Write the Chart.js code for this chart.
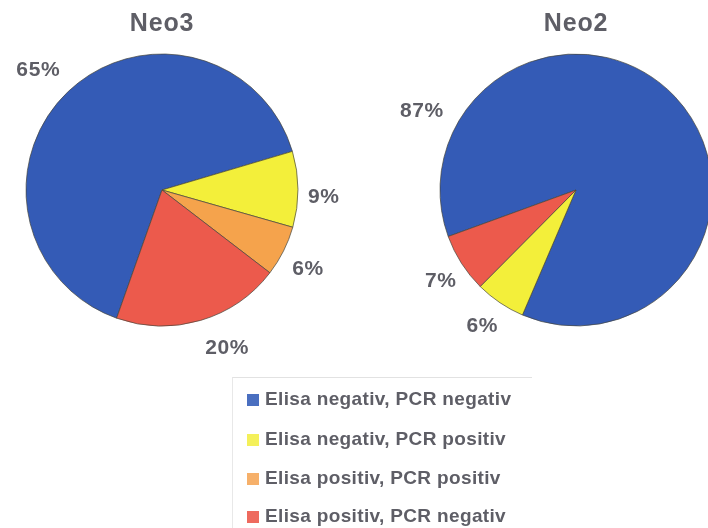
<!DOCTYPE html>
<html>
<head>
<meta charset="utf-8">
<script src="https://cdn.jsdelivr.net/npm/chart.js@4/dist/chart.umd.min.js"></script>
<style>
  html, body { margin: 0; padding: 0; background: #ffffff; }
  #wrap { position: relative; width: 708px; height: 528px; overflow: hidden; background: #fff; }
  canvas.pie { position: absolute; left: 0; top: 0; }
  #legend {
    position: absolute; left: 232px; top: 377px; width: 300px; height: 160px;
    border-top: 1px solid #e2e2e2; border-left: 1px solid #e8e8e8; box-sizing: border-box;
    font-family: "Liberation Sans", Arial, Helvetica, sans-serif; font-weight: bold;
    font-size: 19px; letter-spacing: 0.35px; color: #5e5e66;
  }
  .item { position: absolute; left: 14px; height: 20px; line-height: 20px; white-space: nowrap; }
  .sw { display: inline-block; width: 12px; height: 12px; margin-right: 6px; vertical-align: -1px; }
</style>
</head>
<body>
<div id="wrap">
  <canvas id="c1" class="pie" width="708" height="528"></canvas>
  <canvas id="c2" class="pie" width="708" height="528"></canvas>
  <div id="legend"></div>
</div>
<script>
// ---- data ----
const categories = [
  "Elisa negativ, PCR negativ",
  "Elisa negativ, PCR positiv",
  "Elisa positiv, PCR positiv",
  "Elisa positiv, PCR negativ"
];
const chartTitles = ["Neo3", "Neo2"];
const neo3Values = [65, 9, 6, 20];
const neo2Values = [87, 6, 0, 7];

// ---- styles ----
const sliceColors = ["#345bb6", "#f3ef3a", "#f5a34c", "#ec5a4c"];
const legendColors = ["#4a6fc0", "#f4f05a", "#f6b06a", "#ee6a5e"];
const textColor = "#5e5e66";
const FONT = '"Liberation Sans", Arial, Helvetica, sans-serif';

const labelPlugin = {
  id: 'pieLabels',
  afterDatasetsDraw(chart, args, opts) {
    const ctx = chart.ctx;
    const meta = chart.getDatasetMeta(0);
    const data = chart.data.datasets[0].data;
    ctx.save();
    ctx.fillStyle = textColor;
    ctx.textAlign = 'center';
    ctx.textBaseline = 'middle';
    // title
    const arc0 = meta.data[0];
    ctx.font = 'bold 25px ' + FONT;
    ctx.letterSpacing = '0.8px';
    ctx.fillText(opts.title, arc0.x, opts.titleY);
    ctx.font = 'bold 21px ' + FONT;
    ctx.letterSpacing = '0.6px';
    meta.data.forEach((arc, i) => {
      if (!data[i]) return;
      const p = arc.getProps(['x', 'y', 'startAngle', 'endAngle', 'outerRadius'], true);
      let a = (p.startAngle + p.endAngle) / 2;
      if (opts.angleOverride && opts.angleOverride[i] != null) a = opts.angleOverride[i] * Math.PI / 180;
      const d = p.outerRadius + (opts.dist && opts.dist[i] != null ? opts.dist[i] : 30);
      ctx.fillText(data[i] + '%', p.x + Math.cos(a) * d, p.y + Math.sin(a) * d);
    });
    ctx.restore();
  }
};

function makePie(id, values, title, pad, rotation, labelOpts) {
  return new Chart(document.getElementById(id), {
    type: 'pie',
    data: {
      labels: categories,
      datasets: [{
        data: values,
        backgroundColor: sliceColors,
        borderColor: 'rgba(70,70,60,0.7)',
        borderWidth: 1
      }]
    },
    options: {
      responsive: false,
      animation: false,
      radius: 136,
      rotation: rotation,
      layout: { padding: pad },
      events: [],
      plugins: {
        legend: { display: false },
        tooltip: { enabled: false },
        pieLabels: Object.assign({ title: title, titleY: 24 }, labelOpts)
      }
    },
    plugins: [labelPlugin]
  });
}

makePie('c1', neo3Values, chartTitles[0], { left: 0, right: 384, top: 54, bottom: 202 }, -160.5,
  { angleOverride: [-136, 2.5, 28.4, 67.6], dist: [36, 26, 30, 35] });
makePie('c2', neo2Values, chartTitles[1], { left: 444, right: 0, top: 54, bottom: 202 }, 250,
  { angleOverride: [-153, 124.6, null, 146], dist: [37, 29, 30, 27] });

// ---- legend ----
const legendEl = document.getElementById('legend');
const rowTops = [11, 51, 90, 128];
categories.forEach((c, i) => {
  const d = document.createElement('div');
  d.className = 'item';
  d.style.top = rowTops[i] + 'px';
  d.innerHTML = '<span class="sw" style="background:' + legendColors[i] + '"></span>' + c;
  legendEl.appendChild(d);
});
</script>
</body>
</html>
